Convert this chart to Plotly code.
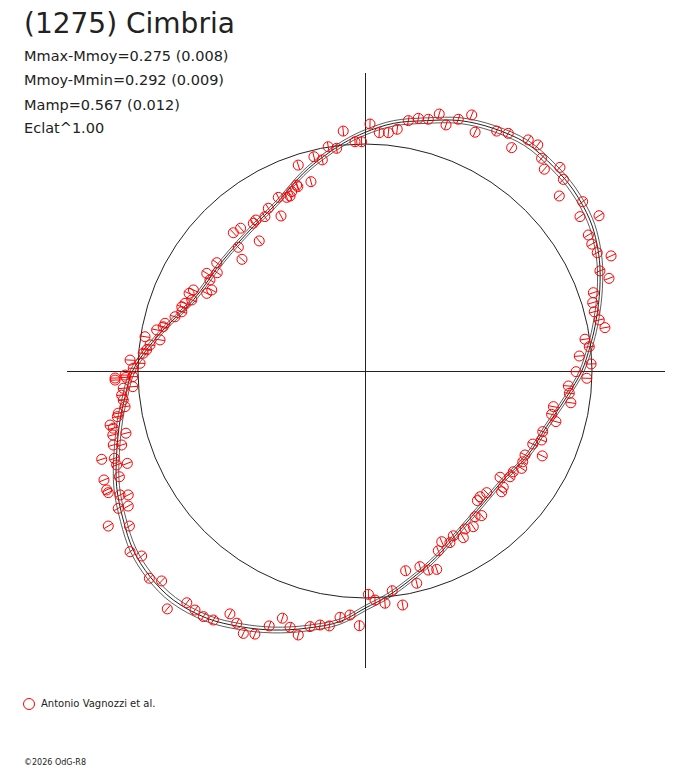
import numpy as np
import plotly.graph_objects as go

# polar light curve of (1275) Cimbria, radius = brightness / mean brightness
# observed points (x, y in units of the mean-brightness circle)
obs_x = [-0.096, -0.162, -0.125, -0.044, -0.015, -0.225, -0.188, -0.294, -0.238, -0.301,
         -0.296, -0.323, -0.330, -0.382, -0.345, -0.370, -0.426, -0.441, -0.481, -0.492,
         -0.548, -0.580, -0.466, -0.558, -0.542, -0.653, -0.697, -0.651, -0.683, -0.675,
         -0.697, -0.756, -0.775, -0.763, -0.793, -0.807, -0.807, -0.837, -0.881, -0.889,
         -0.918, -0.903, -0.969, -0.947, -0.962, -0.977, -1.035, -0.991, -1.021, -1.057,
         -1.101,
         0.022, 0.063, 0.103, 0.142, 0.191, 0.235, 0.279, 0.327, 0.357, 0.411,
         0.470, 0.485, 0.580, 0.631, 0.646, 0.719, 0.761, 0.778, 0.790, 0.859,
         0.874, 0.856, 0.959, 0.947, 1.031, 0.984, 0.999, 1.023, 1.084, 1.035,
         1.075, 1.006, 1.003, 1.010, 1.032, 1.057, 0.969, 0.988, 0.944, 0.996,
         0.930, 0.977,
         0.896, 0.900, 0.907, 0.830, 0.822, 0.841, 0.783, 0.778, 0.781, 0.739,
         0.705, 0.695, 0.690, 0.653, 0.639, 0.595, 0.609, 0.602, 0.536, 0.507,
         0.495, 0.514, 0.485, 0.477, 0.441, 0.433, 0.389, 0.338, 0.374, 0.323,
         0.242, 0.279, 0.316, 0.179, 0.228, 0.120, 0.015, 0.044, 0.088, 0.166,
         -1.101, -1.053, -1.023, -1.023, -1.065, -1.072, -1.065, -1.057, -1.087, -1.091,
         -1.123, -1.109, -1.053, -1.111, -1.109, -1.072, -1.160, -1.104, -1.094, -1.047,
         -1.082, -1.150, -1.138, -1.131, -1.079, -1.043, -1.087, -1.043, -1.131, -1.038,
         -1.035, -0.984, -0.950, -0.896, -0.871, -0.785, -0.749, -0.712, -0.668, -0.595,
         -0.565, -0.536, -0.485, -0.422, -0.364, -0.330, -0.294, -0.242, -0.198, -0.157,
         -0.110, -0.066, -0.025]
obs_y = [1.057, 0.988, 0.981, 1.010, 1.010, 0.944, 0.930, 0.907, 0.834, 0.819,
         0.812, 0.790, 0.771, 0.765, 0.765, 0.683, 0.717, 0.680, 0.665, 0.651,
         0.629, 0.609, 0.573, 0.545, 0.492, 0.477, 0.430, 0.433, 0.401, 0.357,
         0.342, 0.357, 0.342, 0.313, 0.298, 0.283, 0.261, 0.239, 0.210, 0.195,
         0.181, 0.137, 0.151, 0.115, 0.093, 0.078, 0.048, 0.034, 0.012, -0.018,
         -0.031,
         1.088, 1.050, 1.050, 1.065, 1.103, 1.113, 1.109, 1.132, 1.084, 1.109,
         1.128, 1.052, 1.057, 1.047, 0.984, 1.018, 0.996, 0.937, 0.889, 0.897,
         0.844, 0.771, 0.746, 0.680, 0.684, 0.599, 0.559, 0.521, 0.507, 0.441,
         0.408, 0.345, 0.301, 0.261, 0.225, 0.191, 0.140, 0.107, 0.066, 0.031,
         -0.003, -0.032,
         -0.066, -0.098, -0.140, -0.157, -0.191, -0.223, -0.267, -0.304, -0.374, -0.322,
         -0.370, -0.400, -0.429, -0.444, -0.466, -0.468, -0.512, -0.532, -0.536, -0.554,
         -0.571, -0.637, -0.642, -0.686, -0.696, -0.734, -0.726, -0.752, -0.756, -0.792,
         -0.862, -0.877, -0.874, -0.880, -0.935, -0.968, -0.984, -1.009, -1.023, -1.031,
         -0.040, -0.028, -0.025, -0.069, -0.076, -0.106, -0.128, -0.157, -0.186, -0.201,
         -0.238, -0.252, -0.274, -0.282, -0.326, -0.326, -0.389, -0.385, -0.414, -0.407,
         -0.466, -0.480, -0.524, -0.536, -0.546, -0.546, -0.605, -0.595, -0.683, -0.683,
         -0.796, -0.815, -0.913, -0.925, -1.048, -1.021, -1.053, -1.082, -1.097, -1.070,
         -1.111, -1.156, -1.159, -1.123, -1.089, -1.129, -1.163, -1.126, -1.119, -1.123,
         -1.085, -1.075, -1.122]

# fitted curve, read around the loop
fit_x = [0.955, 0.991, 1.013, 1.032, 1.035, 1.021, 0.991, 0.918, 0.830, 0.712,
         0.565, 0.419, 0.272, 0.125, 0.000, -0.096, -0.184, -0.272, -0.389, -0.492,
         -0.624, -0.756, -0.903, -1.024, -1.057, -1.079, -1.094, -1.094, -1.065, -1.021,
         -0.947, -0.844, -0.697, -0.551, -0.404, -0.257, -0.110, 0.000, 0.096, 0.198,
         0.316, 0.419, 0.521, 0.609, 0.712, 0.800, 0.889, 0.955]
fit_y = [0.000, 0.107, 0.195, 0.327, 0.459, 0.563, 0.665, 0.797, 0.900, 1.003,
         1.069, 1.103, 1.103, 1.091, 1.051, 1.003, 0.944, 0.871, 0.739, 0.636,
         0.489, 0.313, 0.166, 0.000, -0.113, -0.216, -0.363, -0.510, -0.656, -0.789,
         -0.906, -1.009, -1.089, -1.126, -1.141, -1.133, -1.104, -1.045, -0.994, -0.921,
         -0.818, -0.700, -0.583, -0.480, -0.378, -0.245, -0.113, 0.000]
amp_err = 0.012  # mag

title = "(1275) Cimbria"
stats = ["Mmax-Mmoy=0.275 (0.008)", "Mmoy-Mmin=0.292 (0.009)",
         "Mamp=0.567 (0.012)", "Eclat^1.00"]
observer = "Antonio Vagnozzi et al."
credit = "©2026 OdG-R8"

ox = np.array(obs_x)
oy = np.array(obs_y)
fx = np.array(fit_x)
fy = np.array(fit_y)
# radial tick inside each circle
radial = 90 - np.degrees(np.arctan2(oy, ox))

fig = go.Figure()

for k in [-1, 1]:
    s = 10 ** (0.4 * k * amp_err)
    fig.add_trace(go.Scatter(x=fx * s, y=fy * s, mode='lines', showlegend=False,
                             line=dict(color='#333', width=0.8, shape='spline'),
                             hoverinfo='skip'))
fig.add_trace(go.Scatter(x=fx, y=fy, mode='lines', showlegend=False,
                         line=dict(color='#222', width=1, shape='spline'),
                         hoverinfo='skip'))

fig.add_trace(go.Scatter(x=ox, y=oy, mode='markers', showlegend=False,
                         marker=dict(symbol='line-ns-open', size=7, angle=radial,
                                     color='red', line=dict(width=1, color='red'))))
fig.add_trace(go.Scatter(x=ox, y=oy, mode='markers', name=observer, showlegend=False,
                         marker=dict(symbol='circle-open', size=10, color='red',
                                     line=dict(width=1))))

fig.add_shape(type='circle', xref='x', yref='y', x0=-1, y0=-1, x1=1, y1=1,
              line=dict(color='#222', width=1), layer='below')
# legend key
fig.add_shape(type='circle', xref='paper', yref='paper', xsizemode='pixel', ysizemode='pixel',
              xanchor=-0.0635, yanchor=-0.0605, x0=-5.5, x1=5.5, y0=-5.5, y1=5.5,
              line=dict(color='red', width=1))

tx = -0.0757
ann = [dict(text=title, x=tx, y=1.084, font=dict(size=28, color='#222'))]
for i, s in enumerate(stats):
    ann.append(dict(text=s, x=tx, y=[1.0286, 0.9874, 0.9462, 0.9076][i],
                    font=dict(size=14.5, color='#222')))
ann.append(dict(text=observer, x=-0.047, y=-0.0605, font=dict(size=10, color='#222')))
ann.append(dict(text=credit, x=tx, y=-0.159, font=dict(size=8, color='#222')))
for a in ann:
    a.update(xref='paper', yref='paper', xanchor='left', yanchor='middle', showarrow=False)

axis = dict(showgrid=False, showticklabels=False, ticks='', showline=False,
            zeroline=True, zerolinecolor='#222', zerolinewidth=1, fixedrange=True)

fig.update_layout(
    width=680, height=760,
    margin=dict(l=59, r=23, t=65, b=100),
    paper_bgcolor='white', plot_bgcolor='white',
    font=dict(family='DejaVu Sans', color='#222'),
    xaxis=dict(range=[-1.3128, 1.3216], **axis),
    yaxis=dict(range=[-1.3084, 1.3128], **axis),
    annotations=ann,
    showlegend=False,
)

fig.write_html("out.html")
